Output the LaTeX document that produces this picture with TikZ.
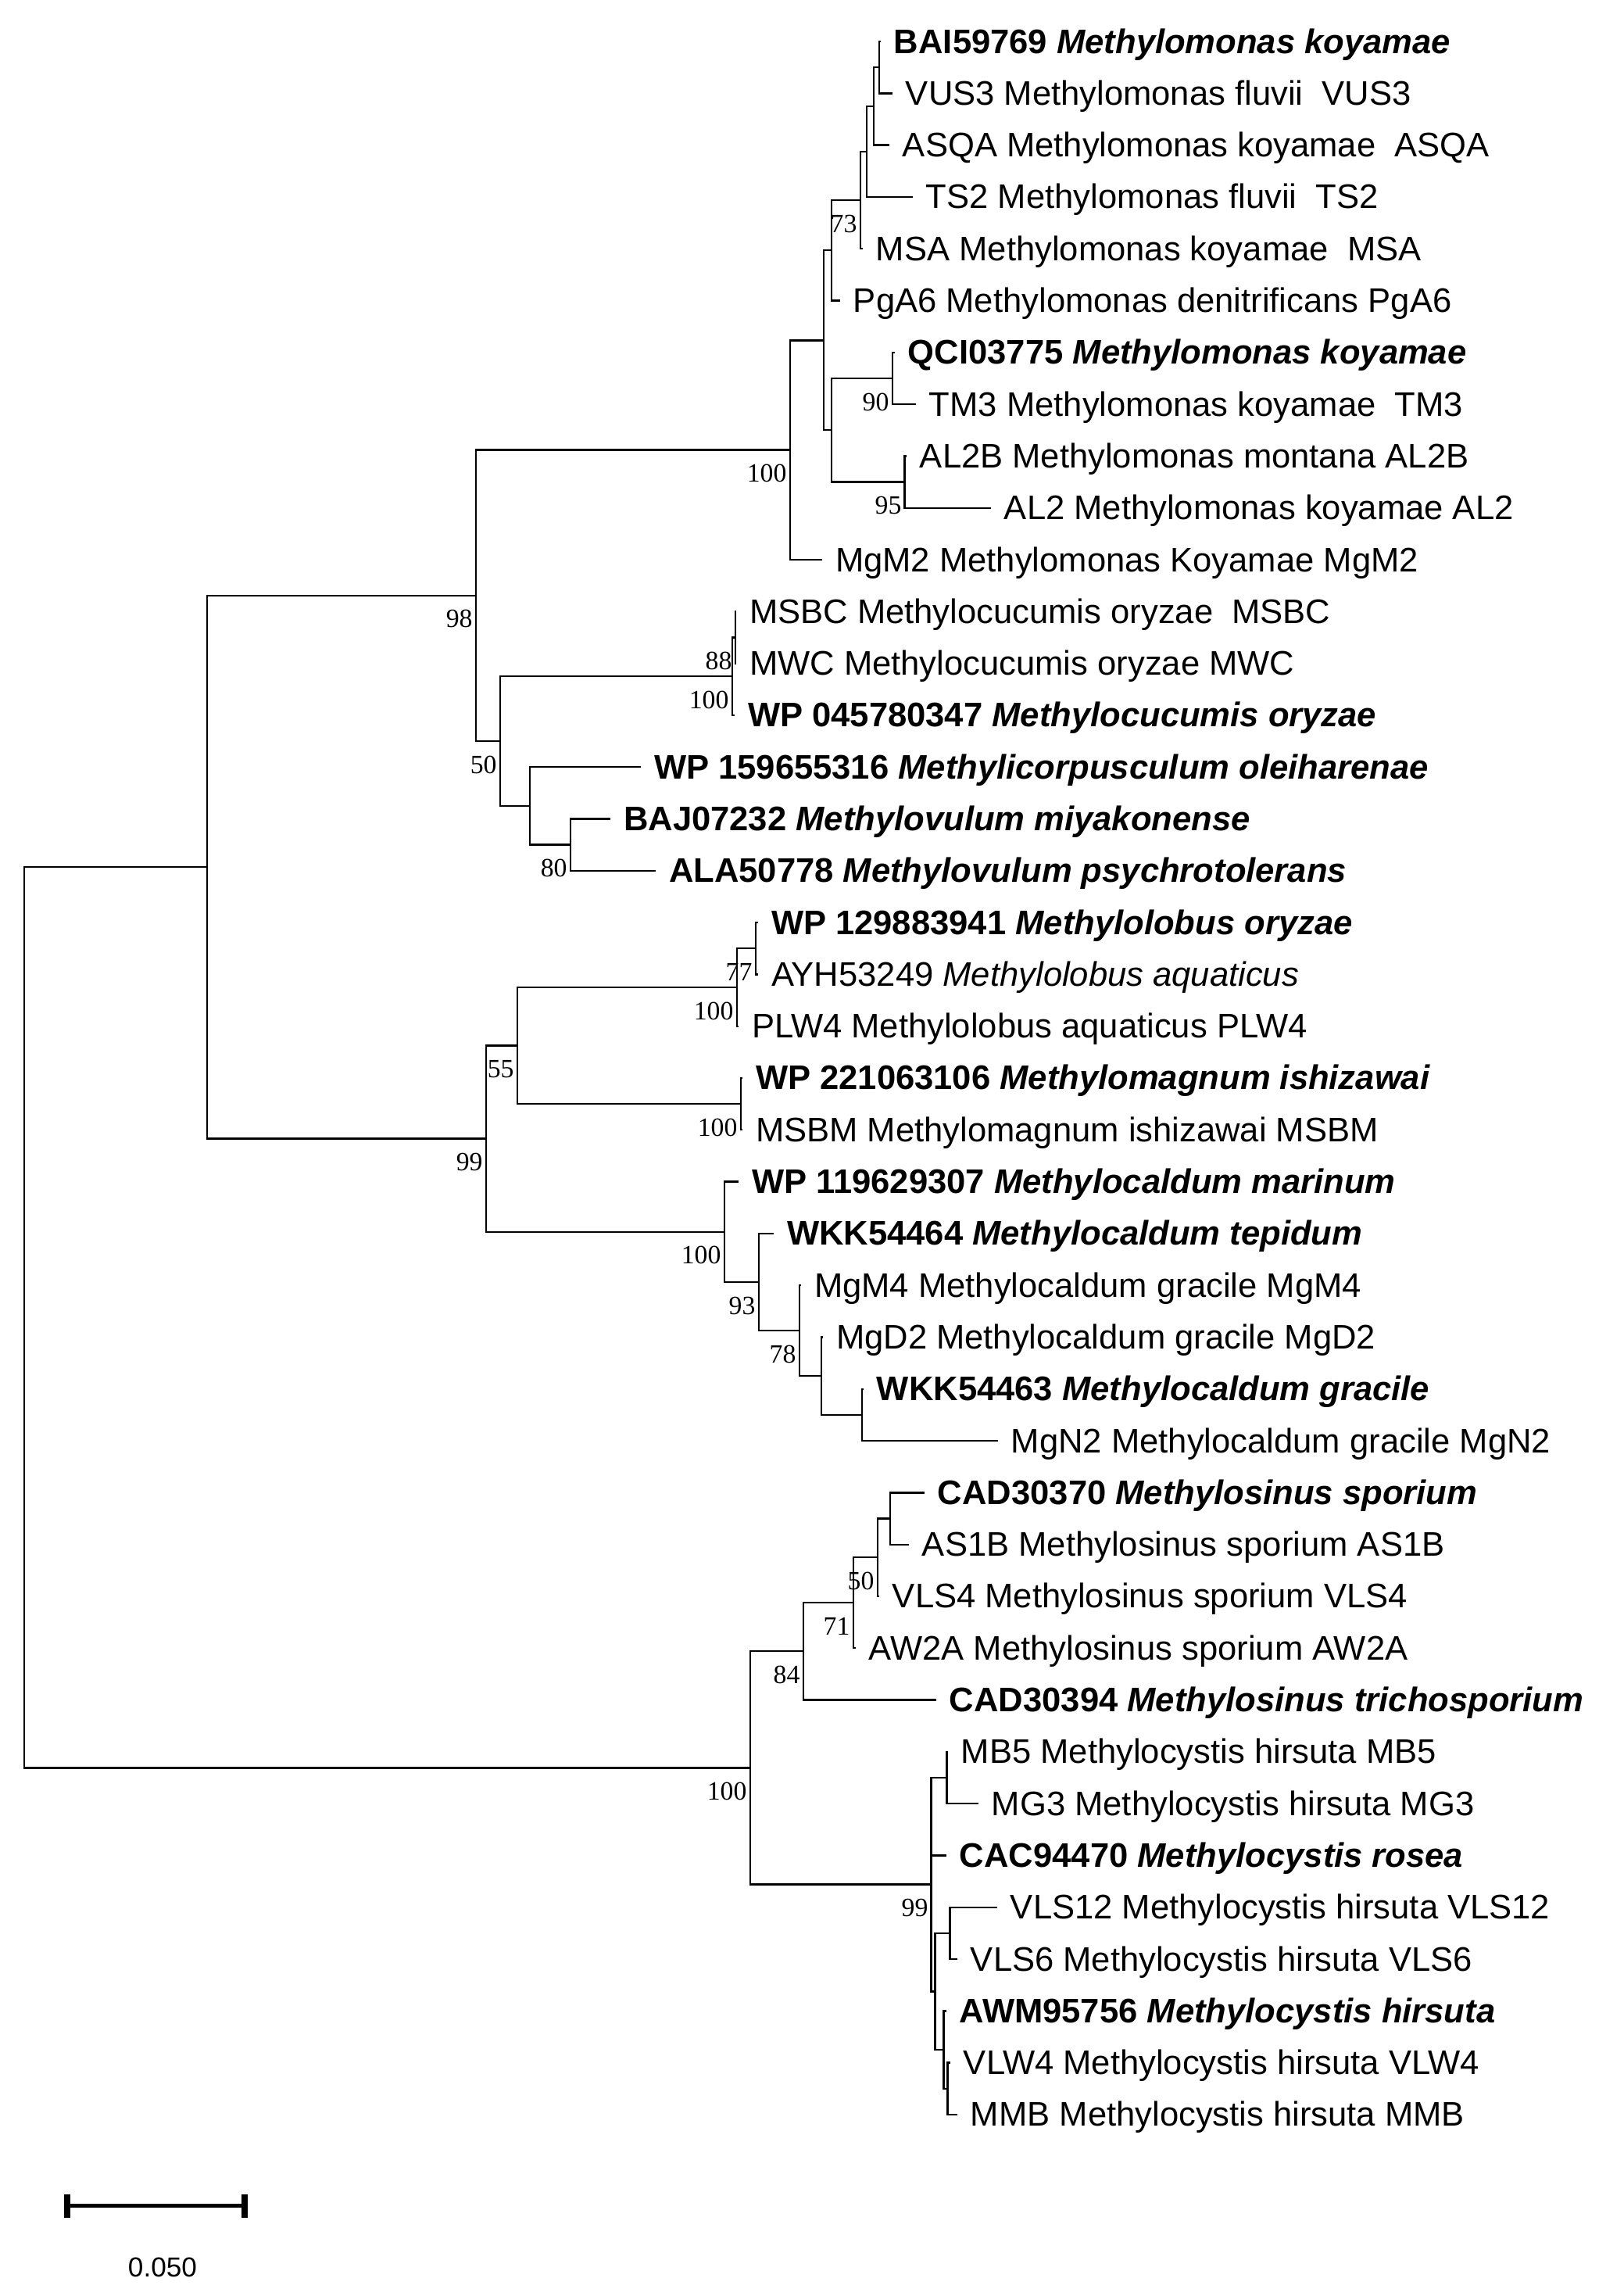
\documentclass[tikz,border=0pt]{standalone}
\usepackage{fontspec}
\setmainfont{Liberation Sans}
\newfontfamily\bsfont{Liberation Serif}
\begin{document}
\begin{tikzpicture}[x=0.025cm,y=-1.6575cm,
  br/.style={line width=1.7pt},
  lab/.style={anchor=base west, inner sep=0pt, xshift=0.425cm, yshift=-0.375cm, font=\fontsize{31}{36}\selectfont},
  bs/.style={anchor=east, inner sep=0pt, xshift=-0.1cm, yshift=-0.75cm, font=\bsfont\fontsize{24}{28}\selectfont}]
\useasboundingbox (0,0.2006) rectangle (2078,44.50);
% leaves
\coordinate (l1) at (1127,1);
\coordinate (l2) at (1142,2);
\coordinate (l3) at (1138,3);
\coordinate (l4) at (1168,4);
\coordinate (l5) at (1104,5);
\coordinate (l6) at (1075,6);
\coordinate (l7) at (1145,7);
\coordinate (l8) at (1172,8);
\coordinate (l9) at (1160,9);
\coordinate (l10) at (1268,10);
\coordinate (l11) at (1052,11);
\coordinate (l12) at (942,12);
\coordinate (l13) at (942,13);
\coordinate (l14) at (940,14);
\coordinate (l15) at (820,15);
\coordinate (l16) at (781,16);
\coordinate (l17) at (839,17);
\coordinate (l18) at (970,18);
\coordinate (l19) at (970,19);
\coordinate (l20) at (945,20);
\coordinate (l21) at (950,21);
\coordinate (l22) at (950,22);
\coordinate (l23) at (945,23);
\coordinate (l24) at (990,24);
\coordinate (l25) at (1025,25);
\coordinate (l26) at (1053,26);
\coordinate (l27) at (1105,27);
\coordinate (l28) at (1277,28);
\coordinate (l29) at (1183,29);
\coordinate (l30) at (1163,30);
\coordinate (l31) at (1125,31);
\coordinate (l32) at (1095,32);
\coordinate (l33) at (1198,33);
\coordinate (l34) at (1213,34);
\coordinate (l35) at (1252,35);
\coordinate (l36) at (1211,36);
\coordinate (l37) at (1276,37);
\coordinate (l38) at (1225,38);
\coordinate (l39) at (1211,39);
\coordinate (l40) at (1216,40);
\coordinate (l41) at (1225,41);
% internal nodes
\coordinate (A) at (1125,1.5);
\coordinate (B) at (1118,2.25);
\coordinate (C) at (1109,3.125);
\coordinate (D) at (1101,4.0625);
\coordinate (E) at (1064,5.03);
\coordinate (F) at (1142,7.5);
\coordinate (G) at (1158,9.5);
\coordinate (H) at (1064,8.5);
\coordinate (I) at (1054,6.77);
\coordinate (J) at (1011,8.88);
\coordinate (M1) at (941,12.5);
\coordinate (M) at (937,13.25);
\coordinate (O) at (730,16.5);
\coordinate (N) at (678,15.75);
\coordinate (L) at (640,14.5);
\coordinate (K) at (609,11.69);
\coordinate (T) at (967,18.5);
\coordinate (S) at (943,19.25);
\coordinate (U) at (948,21.5);
\coordinate (Q) at (662,20.375);
\coordinate (Y) at (1103,27.5);
\coordinate (X) at (1051,26.75);
\coordinate (W) at (1023,25.875);
\coordinate (V) at (971,24.94);
\coordinate (R) at (927,23.97);
\coordinate (P) at (622,22.17);
\coordinate (Z) at (265,16.93);
\coordinate (FF) at (1139,29.5);
\coordinate (EE) at (1123,30.25);
\coordinate (DD) at (1092,31.125);
\coordinate (BB) at (1028,32.06);
\coordinate (GG) at (1212,34.5);
\coordinate (II) at (1216,37.5);
\coordinate (KK) at (1213,40.5);
\coordinate (JJ) at (1208,39.75);
\coordinate (HH) at (1197,38.625);
\coordinate (CC) at (1192,36.56);
\coordinate (AA) at (960,34.31);
\coordinate (root) at (31,25.62);
% branches
\draw[br] (A) |- (l1) (A) |- (l2);
\draw[br] (B) |- (A) (B) |- (l3);
\draw[br] (C) |- (B) (C) |- (l4);
\draw[br] (D) |- (C) (D) |- (l5);
\draw[br] (E) |- (D) (E) |- (l6);
\draw[br] (F) |- (l7) (F) |- (l8);
\draw[br] (G) |- (l9) (G) |- (l10);
\draw[br] (H) |- (F) (H) |- (G);
\draw[br] (I) |- (E) (I) |- (H);
\draw[br] (J) |- (I) (J) |- (l11);
\draw[br] (M1) |- (l12) (M1) |- (l13);
\draw[br] (M) |- (M1) (M) |- (l14);
\draw[br] (O) |- (l16) (O) |- (l17);
\draw[br] (N) |- (l15) (N) |- (O);
\draw[br] (L) |- (M) (L) |- (N);
\draw[br] (K) |- (J) (K) |- (L);
\draw[br] (T) |- (l18) (T) |- (l19);
\draw[br] (S) |- (T) (S) |- (l20);
\draw[br] (U) |- (l21) (U) |- (l22);
\draw[br] (Q) |- (S) (Q) |- (U);
\draw[br] (Y) |- (l27) (Y) |- (l28);
\draw[br] (X) |- (l26) (X) |- (Y);
\draw[br] (W) |- (l25) (W) |- (X);
\draw[br] (V) |- (l24) (V) |- (W);
\draw[br] (R) |- (l23) (R) |- (V);
\draw[br] (P) |- (Q) (P) |- (R);
\draw[br] (Z) |- (K) (Z) |- (P);
\draw[br] (FF) |- (l29) (FF) |- (l30);
\draw[br] (EE) |- (FF) (EE) |- (l31);
\draw[br] (DD) |- (EE) (DD) |- (l32);
\draw[br] (BB) |- (DD) (BB) |- (l33);
\draw[br] (GG) |- (l34) (GG) |- (l35);
\draw[br] (II) |- (l37) (II) |- (l38);
\draw[br] (KK) |- (l40) (KK) |- (l41);
\draw[br] (JJ) |- (l39) (JJ) |- (KK);
\draw[br] (HH) |- (II) (HH) |- (JJ);
\draw[br] (CC) |- (GG) (CC) |- (l36) (CC) |- (HH);
\draw[br] (AA) |- (BB) (AA) |- (CC);
\draw[br] (root) |- (Z) (root) |- (AA);
% labels
\node[lab] (t1) at (l1) {\bfseries BAI59769 \itshape Methylomonas koyamae};
\node[lab] (t2) at (l2) {VUS3 Methylomonas fluvii\ \ VUS3};
\node[lab] (t3) at (l3) {ASQA Methylomonas koyamae\ \ ASQA};
\node[lab] (t4) at (l4) {TS2 Methylomonas fluvii\ \ TS2};
\node[lab] (t5) at (l5) {MSA Methylomonas koyamae\ \ MSA};
\node[lab] (t6) at (l6) {PgA6 Methylomonas denitrificans PgA6};
\node[lab] (t7) at (l7) {\bfseries QCI03775 \itshape Methylomonas koyamae};
\node[lab] (t8) at (l8) {TM3 Methylomonas koyamae\ \ TM3};
\node[lab] (t9) at (l9) {AL2B Methylomonas montana AL2B};
\node[lab] (t10) at (l10) {AL2 Methylomonas koyamae AL2};
\node[lab] (t11) at (l11) {MgM2 Methylomonas Koyamae MgM2};
\node[lab] (t12) at (l12) {MSBC Methylocucumis oryzae\ \ MSBC};
\node[lab] (t13) at (l13) {MWC Methylocucumis oryzae MWC};
\node[lab] (t14) at (l14) {\bfseries WP 045780347 \itshape Methylocucumis oryzae};
\node[lab] (t15) at (l15) {\bfseries WP 159655316 \itshape Methylicorpusculum oleiharenae};
\node[lab] (t16) at (l16) {\bfseries BAJ07232 \itshape Methylovulum miyakonense};
\node[lab] (t17) at (l17) {\bfseries ALA50778 \itshape Methylovulum psychrotolerans};
\node[lab] (t18) at (l18) {\bfseries WP 129883941 \itshape Methylolobus oryzae};
\node[lab] (t19) at (l19) {AYH53249 \itshape Methylolobus aquaticus};
\node[lab] (t20) at (l20) {PLW4 Methylolobus aquaticus PLW4};
\node[lab] (t21) at (l21) {\bfseries WP 221063106 \itshape Methylomagnum ishizawai};
\node[lab] (t22) at (l22) {MSBM Methylomagnum ishizawai MSBM};
\node[lab] (t23) at (l23) {\bfseries WP 119629307 \itshape Methylocaldum marinum};
\node[lab] (t24) at (l24) {\bfseries WKK54464 \itshape Methylocaldum tepidum};
\node[lab] (t25) at (l25) {MgM4 Methylocaldum gracile MgM4};
\node[lab] (t26) at (l26) {MgD2 Methylocaldum gracile MgD2};
\node[lab] (t27) at (l27) {\bfseries WKK54463 \itshape Methylocaldum gracile};
\node[lab] (t28) at (l28) {MgN2 Methylocaldum gracile MgN2};
\node[lab] (t29) at (l29) {\bfseries CAD30370 \itshape Methylosinus sporium};
\node[lab] (t30) at (l30) {AS1B Methylosinus sporium AS1B};
\node[lab] (t31) at (l31) {VLS4 Methylosinus sporium VLS4};
\node[lab] (t32) at (l32) {AW2A Methylosinus sporium AW2A};
\node[lab] (t33) at (l33) {\bfseries CAD30394 \itshape Methylosinus trichosporium};
\node[lab] (t34) at (l34) {MB5 Methylocystis hirsuta MB5};
\node[lab] (t35) at (l35) {MG3 Methylocystis hirsuta MG3};
\node[lab] (t36) at (l36) {\bfseries CAC94470 \itshape Methylocystis rosea};
\node[lab] (t37) at (l37) {VLS12 Methylocystis hirsuta VLS12};
\node[lab] (t38) at (l38) {VLS6 Methylocystis hirsuta VLS6};
\node[lab] (t39) at (l39) {\bfseries AWM95756 \itshape Methylocystis hirsuta};
\node[lab] (t40) at (l40) {VLW4 Methylocystis hirsuta VLW4};
\node[lab] (t41) at (l41) {MMB Methylocystis hirsuta MMB};
% bootstrap values
\node[bs] (bD) at (D) {73};
\node[bs] (bF) at (F) {90};
\node[bs] (bG) at (G) {95};
\node[bs] (bJ) at (J) {100};
\node[bs] (bK) at (K) {98};
\node[bs] (bM1) at (M1) {88};
\node[bs] (bM) at (M) {100};
\node[bs] (bL) at (L) {50};
\node[bs] (bO) at (O) {80};
\node[bs] (bT) at (T) {77};
\node[bs] (bS) at (S) {100};
\node[bs] (bQ) at (Q) {55};
\node[bs] (bU) at (U) {100};
\node[bs] (bP) at (P) {99};
\node[bs] (bR) at (R) {100};
\node[bs] (bV) at (V) {93};
\node[bs] (bW) at (W) {78};
\node[bs] (bEE) at (EE) {50};
\node[bs] (bDD) at (DD) {71};
\node[bs] (bBB) at (BB) {84};
\node[bs] (bAA) at (AA) {100};
\node[bs] (bCC) at (CC) {99};
% scale bar
\coordinate (s1) at (86,42.76);
\coordinate (s2) at (313,42.76);
\draw[line width=3.6pt] (s1) -- (s2);
\draw[line width=6pt] ([yshift=-0.375cm]s1) -- ([yshift=0.375cm]s1);
\draw[line width=6pt] ([yshift=-0.375cm]s2) -- ([yshift=0.375cm]s2);
\node[font=\fontsize{25}{30}\selectfont, inner sep=0pt] (sl) at (208,43.94) {0.050};
\end{tikzpicture}
\end{document}
